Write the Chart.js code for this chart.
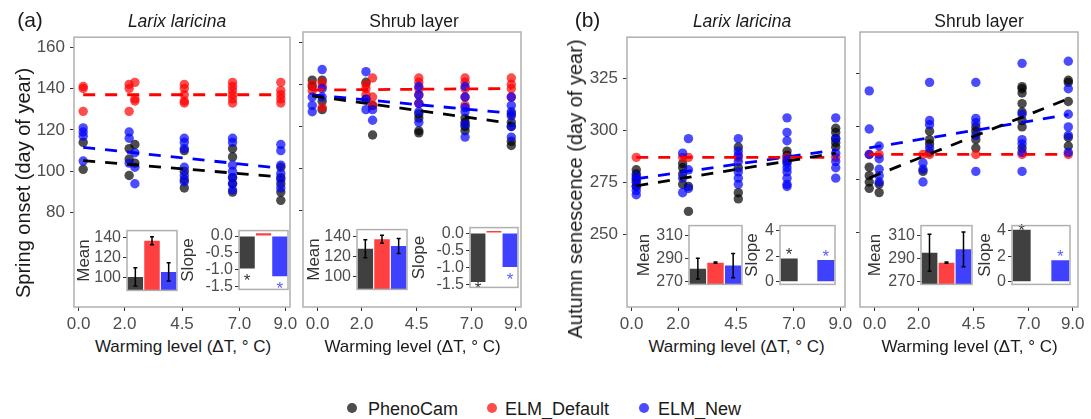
<!DOCTYPE html>
<html>
<head>
<meta charset="utf-8">
<script src="https://cdn.jsdelivr.net/npm/chart.js@4.4.1/dist/chart.umd.min.js"></script>
<style>
  body { margin: 0; background: #fff; }
  #wrap { position: relative; width: 1091px; height: 419px; overflow: hidden;
          font-family: "Liberation Sans", Arial, sans-serif; }
  #wrap canvas { position: absolute; }
  .txt { position: absolute; white-space: nowrap; line-height: 1; color: #1a1a1a;
         transform: translate(-50%, -50%); }
  .rot { transform: translate(-50%, -50%) rotate(-90deg); }
  .dot { position: absolute; width: 10px; height: 10px; border-radius: 50%; }
</style>
</head>
<body>
<div id="wrap"></div>
<script>
// ---- data ----
const seriesNames = ['PhenoCam', 'ELM_Default', 'ELM_New'];
const xTickValues = [0, 2, 4.5, 7, 9];
const springTicks = [80, 100, 120, 140, 160];
const autumnTicks = [250, 275, 300, 325];

// warming levels (deg C) at which the point columns sit
const larixLevels = [0.2, 2.2, 2.45, 4.6, 6.7, 8.8];
const shrubLevels = [-0.24, 0.21, 2.2, 2.5, 4.6, 6.7, 8.8];

// spring onset, one sub-array per warming level
const springLarixPheno = [[114, 101], [111, 106, 98], [113, 104], [110, 100, 96, 92], [111, 107, 97, 94, 90], [102, 97, 94, 90, 86]];
const springLarixDefault = [[141, 140, 129], [142, 140, 129], [143, 135, 134], [142, 140, 137, 134, 133], [143, 141, 139, 137, 135, 133], [143, 139, 137, 135, 133]];
const springLarixNew = [[121, 119, 117, 105], [119, 116, 104], [109, 102, 94], [116, 114, 111, 102, 98, 95], [116, 114, 103, 100, 97, 94, 91], [113, 110, 103, 99, 96, 92]];

const springShrubPheno = [[142, 139], [142, 132, 128], [141, 133], [130, 116], [126, 124, 118, 117], [124, 122, 120, 118], [126, 122, 120, 113, 111]];
const springShrubDefault = [[140, 137], [141, 139, 129], [140, 138, 135], [143, 134, 130], [143, 141, 138, 135, 131], [143, 141, 138, 134, 130], [143, 140, 138, 134]];
const springShrubNew = [[134, 130, 127], [147, 138, 134], [146, 133, 128], [128, 123], [139, 135, 131, 127, 122], [139, 134, 129, 127, 121, 115], [134, 130, 127, 125, 120, 115]];

// autumn senescence
const autumnLarixPheno = [[281, 279, 277, 275, 273], [284, 282, 279, 274], [273, 261], [292, 282, 270, 267], [290, 288, 285], [301, 299, 296, 294, 292]];
const autumnLarixDefault = [[287], [287], [287], [287], [287], [287]];
const autumnLarixNew = [[278, 276, 273, 271, 269], [289, 277, 270], [296, 281, 272], [296, 290, 288, 285, 280, 277, 274], [306, 299, 295, 286, 284, 282, 280, 277, 274, 273], [306, 296, 289, 285, 282, 277]];

const autumnShrubPheno = [[281, 277, 274, 271], [273, 269], [279], [298, 294, 292, 288], [300, 298, 294, 290], [319, 318, 316, 311, 307, 303, 300, 290], [322, 321, 312, 295, 291]];
const autumnShrubDefault = [[287], [287], [287], [287], [287], [287], [287]];
const autumnShrubNew = [[317, 299, 287], [291, 285, 280, 277, 274], [283, 280, 274], [321, 303, 301, 290], [321, 304, 302, 296, 279], [330, 306, 294, 292, 288, 279], [331, 318, 306, 300, 296, 288]];

// fitted lines: start/end x, then [start, end] per series
const springLarixFitX = [0.2, 8.8];
const springLarixFits = [[105.2, 97.3], [137, 137], [111.6, 101.5]];
const springShrubFitX = [-0.24, 8.8];
const springShrubFits = [[134.5, 121.5], [137.3, 138], [135, 126.3]];
const autumnLarixFitX = [0.2, 8.8];
const autumnLarixFits = [[273.3, 289], [287, 287], [276.7, 290.6]];
const autumnShrubFitX = [-0.24, 8.8];
const autumnShrubFits = [[275.9, 313.3], [287, 287], [290.1, 305.8]];

// inset bars
const springLarixMean = [101, 137, 106];
const springLarixSd = [9, 4, 9];
const springLarixSlope = [-0.96, 0.08, -1.19];
const springLarixSig = [true, false, true];
const springShrubMean = [128, 137.5, 130.7];
const springShrubSd = [9, 4, 7.5];
const springShrubSlope = [-1.42, 0.06, -0.99];
const springShrubSig = [true, false, true];
const autumnLarixMean = [281.3, 286.5, 284];
const autumnLarixSd = [9, 0.5, 10.5];
const autumnLarixSlope = [1.83, 0, 1.71];
const autumnLarixSig = [true, false, true];
const autumnShrubMean = [295, 286.5, 298];
const autumnShrubSd = [16, 0.5, 15];
const autumnShrubSlope = [4.1, 0, 1.69];
const autumnShrubSig = [true, false, true];

const springMeanTicks = [100, 120, 140];
const springSlopeTicks = [0, -0.5, -1, -1.5];
const autumnMeanTicks = [270, 290, 310];
const autumnSlopeTicks = [0, 2, 4];

// ---- styling ----
const FONT = "'Liberation Sans', Arial, sans-serif";
Chart.defaults.font.family = FONT;
const pointColors = ['rgba(0,0,0,0.7)', 'rgba(255,0,0,0.7)', 'rgba(0,0,255,0.7)'];
const lineColors = ['#000000', '#ff0000', '#0000ff'];
const barColors = ['#404040', '#ff4040', '#4040ff'];
const starColors = ['#333333', null, '#5b5bff'];

const wrap = document.getElementById('wrap');

function addCanvas(left, top, width, height) {
    const c = document.createElement('canvas');
    c.width = width;
    c.height = height;
    c.style.left = left + 'px';
    c.style.top = top + 'px';
    c.style.width = width + 'px';
    c.style.height = height + 'px';
    wrap.appendChild(c);
    return c;
}

function addText(text, x, y, size, extra) {
    const d = document.createElement('div');
    d.className = 'txt' + (extra && extra.rot ? ' rot' : '');
    d.textContent = text;
    d.style.left = x + 'px';
    d.style.top = y + 'px';
    d.style.fontSize = size + 'px';
    if (extra && extra.italic) d.style.fontStyle = 'italic';
    wrap.appendChild(d);
}

// frame around the plotting area (and white fill for insets)
Chart.register({
    id: 'frame',
    beforeDraw(chart, args, opts) {
        if (!opts.fill) return;
        const a = chart.chartArea;
        chart.ctx.save();
        chart.ctx.fillStyle = opts.fill;
        chart.ctx.fillRect(a.left, a.top, a.width, a.height);
        chart.ctx.restore();
    },
    afterDraw(chart, args, opts) {
        if (!opts.color) return;
        const a = chart.chartArea, ctx = chart.ctx;
        ctx.save();
        ctx.strokeStyle = opts.color;
        ctx.lineWidth = opts.width || 1;
        ctx.strokeRect(a.left, a.top, a.width, a.height);
        ctx.restore();
    }
});

// error bars and significance stars for the inset bar charts
Chart.register({
    id: 'barExtras',
    afterDatasetsDraw(chart, args, opts) {
        const meta = chart.getDatasetMeta(0);
        const vals = chart.data.datasets[0].data;
        const y = chart.scales.y, a = chart.chartArea, ctx = chart.ctx;
        ctx.save();
        if (opts.sd) {
            ctx.strokeStyle = '#000';
            ctx.lineWidth = 1.5;
            meta.data.forEach((bar, i) => {
                const t = y.getPixelForValue(vals[i] + opts.sd[i]);
                const b = y.getPixelForValue(vals[i] - opts.sd[i]);
                ctx.beginPath();
                ctx.moveTo(bar.x, t); ctx.lineTo(bar.x, b);
                ctx.moveTo(bar.x - 2, t); ctx.lineTo(bar.x + 2, t);
                ctx.moveTo(bar.x - 2, b); ctx.lineTo(bar.x + 2, b);
                ctx.stroke();
            });
        }
        if (opts.sig) {
            ctx.font = '17px ' + FONT;
            ctx.textAlign = 'center';
            ctx.textBaseline = 'alphabetic';
            meta.data.forEach((bar, i) => {
                if (!opts.sig[i]) return;
                let cy = y.getPixelForValue(vals[i]) + (vals[i] < 0 ? 8 : -8);
                cy = Math.min(Math.max(cy, a.top + 1), a.bottom - 3);
                ctx.fillStyle = starColors[i];
                ctx.fillText('*', bar.x, cy + 9.8);
            });
        }
        ctx.restore();
    }
});

function fixedTicks(values) {
    return scale => { scale.ticks = values.map(v => ({ value: v })); };
}

function mainPanel(p) {
    const canvas = addCanvas(p.left - 44, 22, p.right - p.left + 60, 313);
    const datasets = [];
    seriesNames.forEach((name, s) => {
        datasets.push({
            label: name + ' fit',
            data: p.fitX.map((x, k) => ({ x: x, y: p.fits[s][k] })),
            showLine: true,
            borderColor: lineColors[s],
            borderWidth: 2.8,
            borderDash: [12, 10],
            pointRadius: 0,
            order: 0
        });
        const pts = [];
        p.levels.forEach((lvl, i) => {
            p.values[s][i].forEach(v => pts.push({ x: lvl, y: v }));
        });
        datasets.push({
            label: name,
            data: pts,
            backgroundColor: pointColors[s],
            borderWidth: 0,
            pointRadius: 4.7,
            order: 3 - s
        });
    });

    new Chart(canvas, {
        type: 'scatter',
        data: { datasets: datasets },
        options: {
            responsive: false,
            animation: false,
            events: [],
            devicePixelRatio: 1,
            layout: { padding: { top: 10, right: 16, left: 0, bottom: 0 } },
            plugins: {
                legend: { display: false },
                tooltip: { enabled: false },
                frame: { color: '#b0b0b0', width: 1.5 }
            },
            scales: {
                x: {
                    type: 'linear',
                    min: p.xRange[0],
                    max: p.xRange[1],
                    afterBuildTicks: fixedTicks(xTickValues),
                    afterFit: s => { s.height = 28; },
                    border: { display: false },
                    grid: { drawOnChartArea: false, drawTicks: true, tickLength: 4, color: '#333' },
                    ticks: { font: { size: 17 }, color: '#4d4d4d', padding: 3, maxRotation: 0,
                             autoSkip: false, callback: v => v.toFixed(1) }
                },
                y: {
                    min: p.yRange[0],
                    max: p.yRange[1],
                    afterBuildTicks: fixedTicks(p.yTicks),
                    afterFit: s => { s.width = 44; },
                    border: { display: false },
                    grid: { drawOnChartArea: false, drawTicks: true, tickLength: 4, color: '#333' },
                    ticks: { display: p.yLabels, font: { size: 17 }, color: '#4d4d4d', padding: 5,
                             autoSkip: false }
                }
            }
        }
    });
}

function insetPanel(g, values, sd, sig, range, ticks, title, digits) {
    const left = Math.round(g.titleX - 10);
    const canvas = addCanvas(left, g.top - 8, g.right - left + 3, g.bottom - g.top + 16);
    new Chart(canvas, {
        type: 'bar',
        data: {
            labels: seriesNames,
            datasets: [{
                data: values,
                backgroundColor: barColors,
                borderWidth: 0,
                barPercentage: 0.93,
                categoryPercentage: 1
            }]
        },
        options: {
            responsive: false,
            animation: false,
            events: [],
            devicePixelRatio: 1,
            layout: { padding: { top: 8, bottom: 8, right: 3, left: 0 } },
            plugins: {
                legend: { display: false },
                tooltip: { enabled: false },
                frame: { fill: '#ffffff', color: '#b0b0b0', width: 1.5 },
                barExtras: { sd: sd, sig: sig }
            },
            scales: {
                x: { display: false },
                y: {
                    min: range[0],
                    max: range[1],
                    afterBuildTicks: fixedTicks(ticks),
                    afterFit: s => { s.width = g.left - left; },
                    border: { display: false },
                    grid: { drawOnChartArea: false, drawTicks: true, tickLength: 4, color: '#333' },
                    title: { display: true, text: title, font: { size: 17 }, color: '#333', padding: 0 },
                    ticks: { font: { size: 16 }, color: '#4d4d4d', padding: 2, autoSkip: false,
                             callback: v => v.toFixed(digits) }
                }
            }
        }
    });
}

const springRange = [34.5, 164.8];
const autumnRange = [215, 344.8];
const larixX = [-0.2, 9.2];
const shrubX = [-0.66, 9.24];

mainPanel({ left: 74, right: 290, levels: larixLevels, xRange: larixX, yRange: springRange, yTicks: springTicks,
            yLabels: true, fitX: springLarixFitX, fits: springLarixFits,
            values: [springLarixPheno, springLarixDefault, springLarixNew] });
mainPanel({ left: 303, right: 521, levels: shrubLevels, xRange: shrubX, yRange: springRange, yTicks: springTicks,
            yLabels: false, fitX: springShrubFitX, fits: springShrubFits,
            values: [springShrubPheno, springShrubDefault, springShrubNew] });
mainPanel({ left: 627, right: 845, levels: larixLevels, xRange: larixX, yRange: autumnRange, yTicks: autumnTicks,
            yLabels: true, fitX: autumnLarixFitX, fits: autumnLarixFits,
            values: [autumnLarixPheno, autumnLarixDefault, autumnLarixNew] });
mainPanel({ left: 860, right: 1078, levels: shrubLevels, xRange: shrubX, yRange: autumnRange, yTicks: autumnTicks,
            yLabels: false, fitX: autumnShrubFitX, fits: autumnShrubFits,
            values: [autumnShrubPheno, autumnShrubDefault, autumnShrubNew] });

const springMeanRange = [87.6, 147];
const springSlopeRange = [-1.58, 0.16];
const autumnMeanRange = [267.7, 318.5];
const autumnSlopeRange = [-0.2, 4.42];

insetPanel({ left: 127, top: 227, right: 177, bottom: 294, titleX: 84 }, springLarixMean, springLarixSd, null,
           springMeanRange, springMeanTicks, 'Mean', 0);
insetPanel({ left: 239, top: 227, right: 288, bottom: 293, titleX: 188 }, springLarixSlope, null, springLarixSig,
           springSlopeRange, springSlopeTicks, 'Slope', 1);
insetPanel({ left: 357, top: 226, right: 407, bottom: 293, titleX: 313.5 }, springShrubMean, springShrubSd, null,
           springMeanRange, springMeanTicks, 'Mean', 0);
insetPanel({ left: 470, top: 224, right: 518, bottom: 291, titleX: 419 }, springShrubSlope, null, springShrubSig,
           springSlopeRange, springSlopeTicks, 'Slope', 1);
insetPanel({ left: 689, top: 222, right: 742, bottom: 288, titleX: 643.5 }, autumnLarixMean, autumnLarixSd, null,
           autumnMeanRange, autumnMeanTicks, 'Mean', 0);
insetPanel({ left: 780, top: 222, right: 835, bottom: 288, titleX: 751.5 }, autumnLarixSlope, null, autumnLarixSig,
           autumnSlopeRange, autumnSlopeTicks, 'Slope', 0);
insetPanel({ left: 921, top: 222, right: 972, bottom: 288, titleX: 875 }, autumnShrubMean, autumnShrubSd, null,
           autumnMeanRange, autumnMeanTicks, 'Mean', 0);
insetPanel({ left: 1012, top: 222, right: 1070, bottom: 288, titleX: 985 }, autumnShrubSlope, null, autumnShrubSig,
           autumnSlopeRange, autumnSlopeTicks, 'Slope', 0);

// titles and labels
addText('(a)', 30, 18.5, 21);
addText('(b)', 587.5, 18.5, 21);
addText('Larix laricina', 177, 21.5, 17.5, { italic: true });
addText('Shrub layer', 414, 21.5, 17.5);
addText('Larix laricina', 742, 21.5, 17.5, { italic: true });
addText('Shrub layer', 979, 21.5, 17.5);
[183, 412.5, 736.5, 969.5].forEach(x => addText('Warming level (\u0394T, \u00b0 C)', x, 345.8, 17));
addText('Spring onset (day of year)', 22.5, 182.5, 20, { rot: true });
addText('Autumn senescence (day of year)', 575, 189, 20, { rot: true });

// legend
const legendDotX = [351.7, 491.7, 644.3];
const legendTextX = [368, 505, 658];
const legendFill = ['#4d4d4d', '#ff4d4d', '#4d4dff'];
seriesNames.forEach((name, i) => {
    const dot = document.createElement('div');
    dot.className = 'dot';
    dot.style.left = (legendDotX[i] - 5) + 'px';
    dot.style.top = (408 - 5) + 'px';
    dot.style.background = legendFill[i];
    wrap.appendChild(dot);
    const t = document.createElement('div');
    t.className = 'txt';
    t.style.transform = 'translate(0, -50%)';
    t.style.left = legendTextX[i] + 'px';
    t.style.top = '408.5px';
    t.style.fontSize = '18px';
    t.textContent = name;
    wrap.appendChild(t);
});
</script>
</body>
</html>
